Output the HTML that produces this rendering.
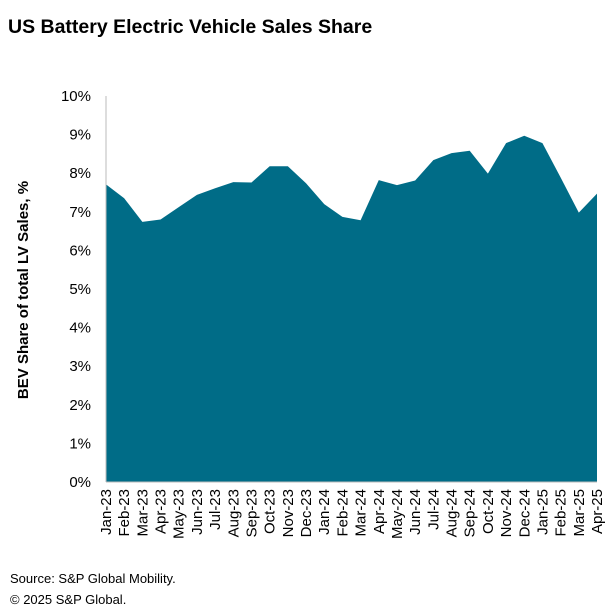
<!DOCTYPE html>
<html><head><meta charset="utf-8"><style>
body{margin:0;background:#fff;font-family:"Liberation Sans",Arial,sans-serif;}
</style></head><body>
<svg width="616" height="609" xmlns="http://www.w3.org/2000/svg" style="font-family:'Liberation Sans',Arial,sans-serif">
<text x="8" y="33" font-size="19.5" font-weight="bold" fill="#000">US Battery Electric Vehicle Sales Share</text>
<text transform="translate(28,290) rotate(-90)" text-anchor="middle" font-size="15" font-weight="bold" fill="#000">BEV Share of total LV Sales, %</text>
<g id="yt"></g>
<g id="plot"></g>
<g id="xt"></g>
<text x="10" y="583" font-size="13" fill="#000">Source: S&amp;P Global Mobility.</text>
<text x="10" y="604" font-size="13" fill="#000">© 2025 S&amp;P Global.</text>
</svg>
<script>
const categories=["Jan-23","Feb-23","Mar-23","Apr-23","May-23","Jun-23","Jul-23","Aug-23","Sep-23","Oct-23","Nov-23","Dec-23","Jan-24","Feb-24","Mar-24","Apr-24","May-24","Jun-24","Jul-24","Aug-24","Sep-24","Oct-24","Nov-24","Dec-24","Jan-25","Feb-25","Mar-25","Apr-25"];
const shareValues=[7.71,7.35,6.74,6.80,7.12,7.44,7.61,7.77,7.76,8.18,8.18,7.74,7.20,6.87,6.78,7.82,7.69,7.81,8.34,8.52,8.58,7.99,8.78,8.97,8.78,7.89,6.98,7.47];
const yTicks=[0,1,2,3,4,5,6,7,8,9,10];
const NS="http://www.w3.org/2000/svg";
const x0=106,x1=597,yb=482,yt=96;
function xs(i){return x0+(x1-x0)*i/(categories.length-1);}
function ys(v){return yb-(yb-yt)*v/10;}
const yg=document.getElementById('yt');
yTicks.forEach(t=>{
 const tx=document.createElementNS(NS,'text');
 
 
 tx.setAttribute('x',91);tx.setAttribute('y',ys(t)+5);
 tx.setAttribute('text-anchor','end');tx.setAttribute('font-size','15');
 tx.textContent=t+'%';yg.appendChild(tx);
});
const pg=document.getElementById('plot');
let d='M'+xs(0)+','+ys(0);
shareValues.forEach((v,i)=>{d+=' L'+xs(i)+','+ys(v);});
d+=' L'+xs(shareValues.length-1)+','+ys(0)+' Z';
const p=document.createElementNS(NS,'path');


p.setAttribute('d',d);p.setAttribute('fill','#006c87');
pg.appendChild(p);
const ax=document.createElementNS(NS,'line');


ax.setAttribute('x1',x0);ax.setAttribute('x2',x0);ax.setAttribute('y1',yt);ax.setAttribute('y2',yb);
ax.setAttribute('stroke','#bbb');ax.setAttribute('stroke-width','1');
pg.appendChild(ax);
const bl=document.createElementNS(NS,'line');


bl.setAttribute('x1',x0);bl.setAttribute('x2',x1);bl.setAttribute('y1',yb);bl.setAttribute('y2',yb);
bl.setAttribute('stroke','#bbb');bl.setAttribute('stroke-width','1');
pg.appendChild(bl);
const xg=document.getElementById('xt');
categories.forEach((c,i)=>{
 const tx=document.createElementNS(NS,'text');
 
 
 const x=xs(i)+5,y=489;
 tx.setAttribute('transform','translate('+x+','+y+') rotate(-90)');
 tx.setAttribute('text-anchor','end');tx.setAttribute('font-size','15');
 tx.textContent=c;xg.appendChild(tx);
});
</script>
</body></html>
